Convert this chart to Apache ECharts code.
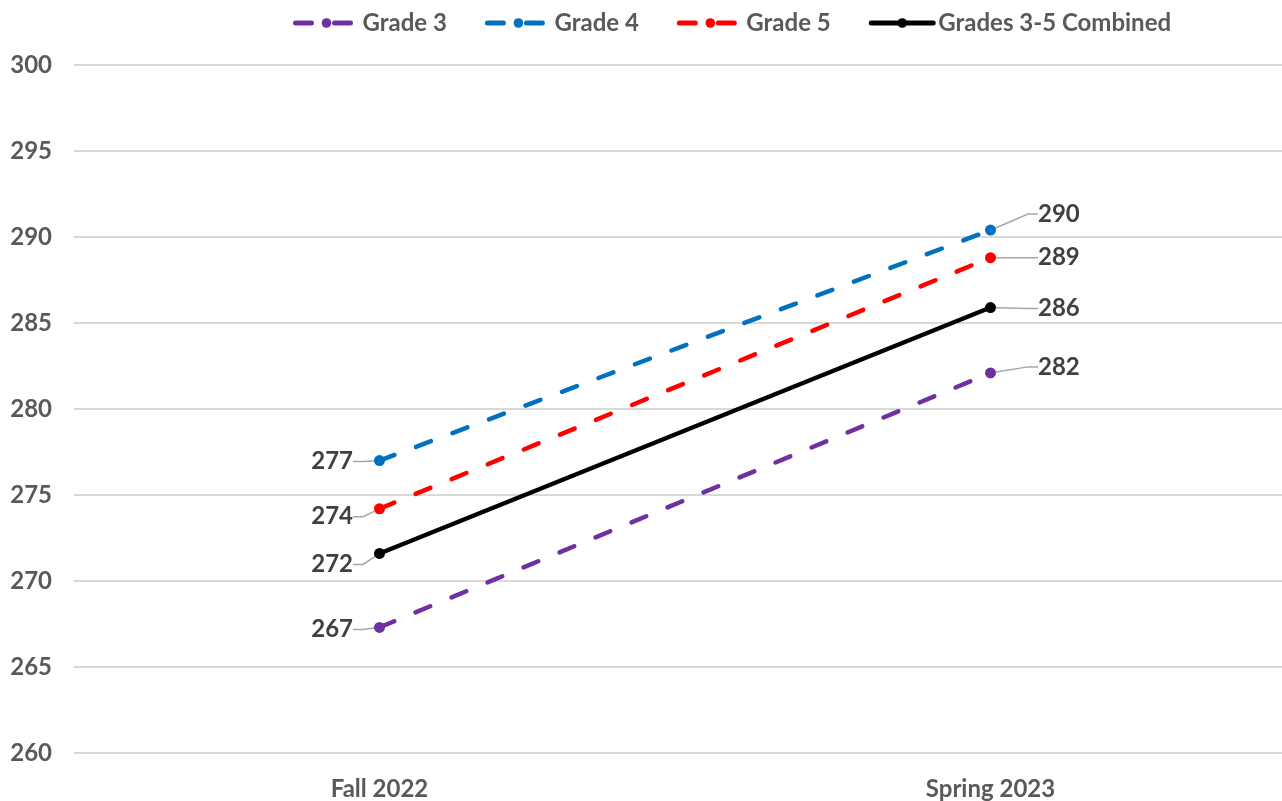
<!DOCTYPE html>
<html>
<head>
<meta charset="utf-8">
<script src="https://cdn.jsdelivr.net/npm/echarts@6/dist/echarts.min.js"></script>
<style>
  html, body { margin: 0; padding: 0; background: #fff; overflow: hidden; }
  /* plot area runs a bit past the right edge of the window, like the original */
  #chart { width: 1296px; height: 801px; }
</style>
</head>
<body>
<div id="chart"></div>
<script>
const terms = ['Fall 2022', 'Spring 2023'];
const grade3 = [267.3, 282.1];
const grade4 = [277.0, 290.4];
const grade5 = [274.2, 288.8];
const combined = [271.6, 285.9];

// vertical label nudges (px) so the value labels don't collide, Excel-style
const labelDy = {
  'Grade 3': [2, -6],
  'Grade 4': [1, -16],
  'Grade 5': [8, 0],
  'Grades 3-5 Combined': [11, 1]
};

const textColor = '#595959';
const fontFamily = 'Lato, "Open Sans", sans-serif';

function makeSeries(name, values, color, dashed) {
  return {
    name,
    type: 'line',
    data: values.map((v, i) => ({
      value: v,
      label: i === 0
        ? { position: 'left', distance: 21 }
        : { position: 'right', distance: 42 }
    })),
    symbol: 'circle',
    symbolSize: 11,
    itemStyle: { color },
    lineStyle: {
      color,
      width: 4.5,
      type: dashed ? [16, 23] : 'solid',
      cap: 'round'
    },
    label: {
      show: true,
      formatter: p => Math.round(p.value),
      color: '#404040',
      fontSize: 24,
      fontWeight: 'bold',
      fontFamily
    },
    labelLine: {
      show: true,
      length2: 10,
      lineStyle: { color: '#a6a6a6', width: 1.5 }
    },
    labelLayout: p => ({ dy: labelDy[name][p.dataIndex] })
  };
}

const chart = echarts.init(document.getElementById('chart'), null, { renderer: 'canvas' });

chart.setOption({
  animation: false,
  legend: {
    top: 6,
    left: 288,
    itemWidth: 62,
    itemHeight: 12,
    itemGap: 38,
    lineStyle: { width: 5, type: 'inherit', cap: 'round' },
    textStyle: { color: textColor, fontSize: 24, fontWeight: 'bold', fontFamily }
  },
  grid: { left: 74, top: 65, right: 0, height: 688 },
  xAxis: {
    type: 'category',
    data: terms,
    axisLine: { show: false },
    axisTick: { show: false },
    axisLabel: { color: textColor, fontSize: 24, fontWeight: 'bold', fontFamily, margin: 24 }
  },
  yAxis: {
    type: 'value',
    min: 260,
    max: 300,
    interval: 5,
    axisLine: { show: false },
    axisTick: { show: false },
    axisLabel: { color: textColor, fontSize: 24, fontWeight: 'bold', fontFamily, margin: 22 },
    splitLine: { lineStyle: { color: '#d9d9d9', width: 2 } }
  },
  series: [
    makeSeries('Grade 3', grade3, '#7030a0', true),
    makeSeries('Grade 4', grade4, '#0070c0', true),
    makeSeries('Grade 5', grade5, '#ff0000', true),
    makeSeries('Grades 3-5 Combined', combined, '#000000', false)
  ]
});
</script>
</body>
</html>
